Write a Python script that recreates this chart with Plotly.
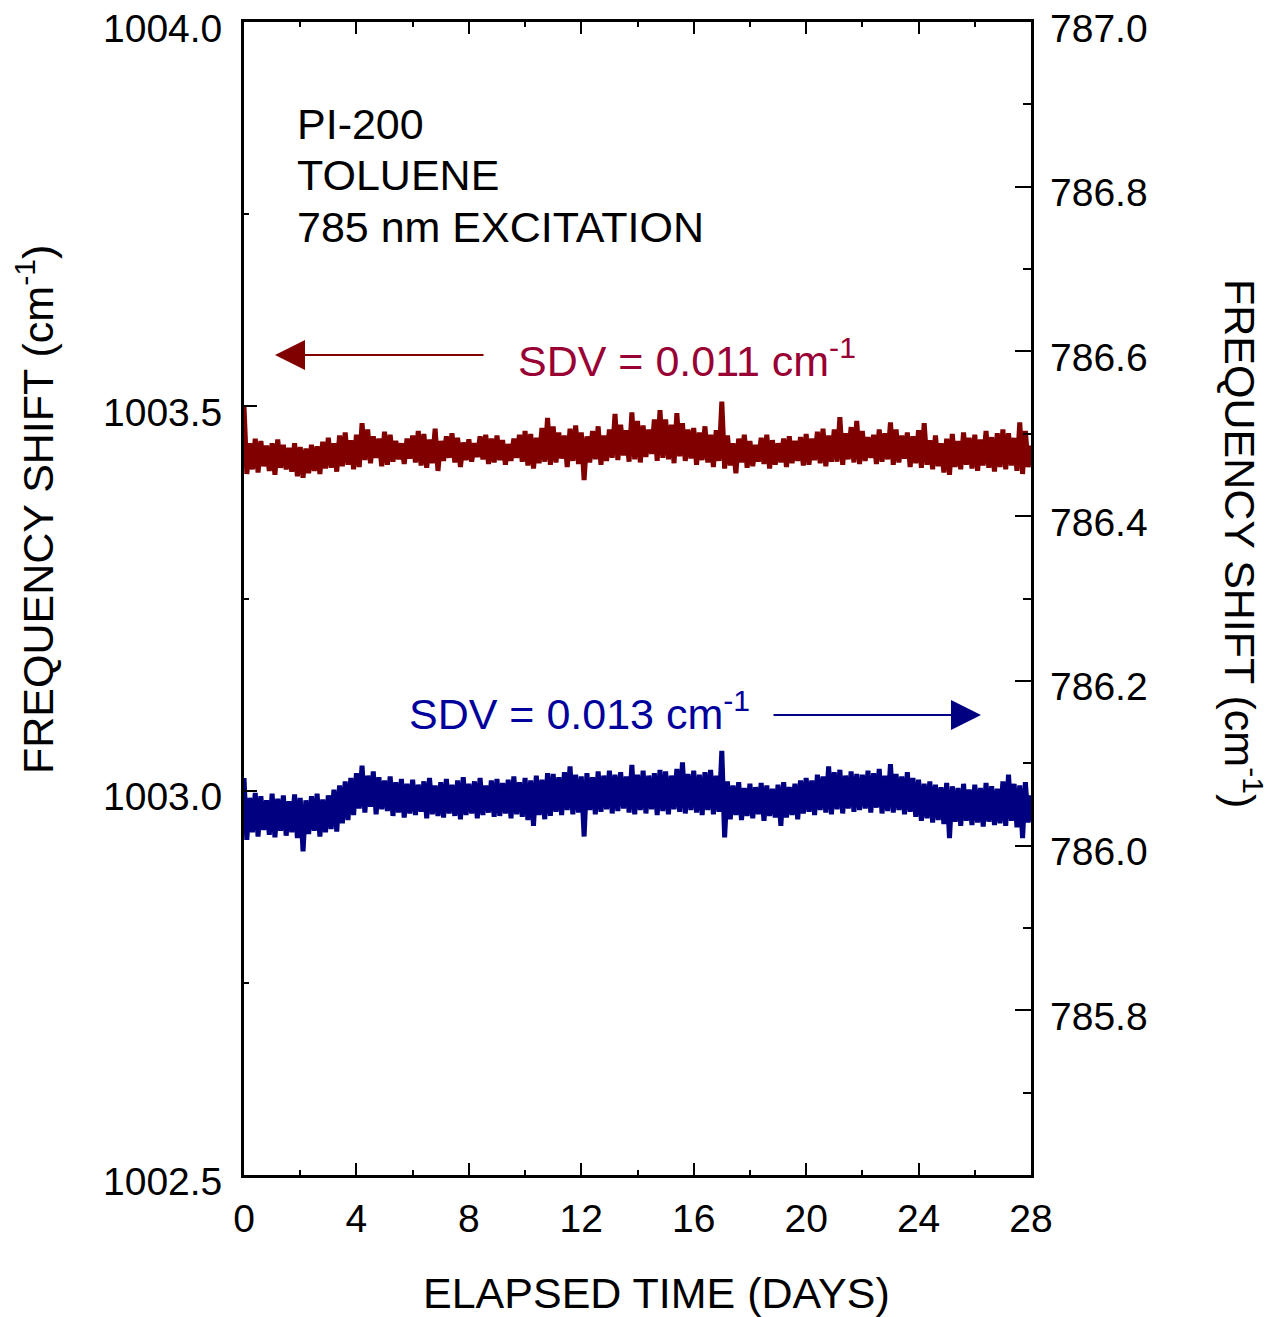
import plotly.graph_objects as go

# ---- data ----
T_STEP = 0.1  # days between plotted samples

RED_LEFT = [  # frequency shift, left axis (cm-1); one row per day
    1003.500, 1003.412, 1003.452, 1003.418, 1003.458, 1003.414, 1003.455, 1003.422, 1003.449, 1003.416,
    1003.452, 1003.411, 1003.457, 1003.420, 1003.450, 1003.418, 1003.446, 1003.415, 1003.452, 1003.409,
    1003.447, 1003.407, 1003.445, 1003.413, 1003.450, 1003.416, 1003.448, 1003.412, 1003.454, 1003.419,
    1003.459, 1003.420, 1003.452, 1003.415, 1003.462, 1003.422, 1003.466, 1003.424, 1003.456, 1003.418,
    1003.463, 1003.421, 1003.478, 1003.430, 1003.470, 1003.426, 1003.461, 1003.433, 1003.458, 1003.422,
    1003.467, 1003.424, 1003.463, 1003.428, 1003.455, 1003.431, 1003.452, 1003.425, 1003.458, 1003.432,
    1003.462, 1003.427, 1003.468, 1003.423, 1003.464, 1003.420, 1003.457, 1003.426, 1003.471, 1003.416,
    1003.455, 1003.429, 1003.461, 1003.433, 1003.465, 1003.427, 1003.459, 1003.421, 1003.453, 1003.430,
    1003.457, 1003.428, 1003.452, 1003.434, 1003.461, 1003.431, 1003.463, 1003.425, 1003.458, 1003.427,
    1003.462, 1003.430, 1003.456, 1003.424, 1003.451, 1003.429, 1003.458, 1003.433, 1003.463, 1003.428,
    1003.468, 1003.423, 1003.464, 1003.419, 1003.459, 1003.426, 1003.472, 1003.428, 1003.485, 1003.424,
    1003.474, 1003.427, 1003.466, 1003.432, 1003.462, 1003.421, 1003.471, 1003.429, 1003.475, 1003.425,
    1003.466, 1003.404, 1003.461, 1003.427, 1003.468, 1003.431, 1003.474, 1003.424, 1003.462, 1003.429,
    1003.470, 1003.433, 1003.490, 1003.430, 1003.476, 1003.436, 1003.469, 1003.428, 1003.492, 1003.431,
    1003.481, 1003.427, 1003.475, 1003.434, 1003.470, 1003.438, 1003.483, 1003.429, 1003.495, 1003.433,
    1003.483, 1003.431, 1003.476, 1003.426, 1003.491, 1003.435, 1003.478, 1003.429, 1003.470, 1003.432,
    1003.472, 1003.424, 1003.466, 1003.430, 1003.474, 1003.427, 1003.463, 1003.421, 1003.469, 1003.429,
    1003.506, 1003.419, 1003.462, 1003.423, 1003.452, 1003.413, 1003.458, 1003.427, 1003.463, 1003.420,
    1003.455, 1003.422, 1003.450, 1003.428, 1003.459, 1003.425, 1003.463, 1003.419, 1003.456, 1003.424,
    1003.452, 1003.427, 1003.458, 1003.421, 1003.461, 1003.426, 1003.455, 1003.429, 1003.460, 1003.423,
    1003.464, 1003.424, 1003.458, 1003.430, 1003.467, 1003.426, 1003.471, 1003.422, 1003.462, 1003.428,
    1003.470, 1003.428, 1003.486, 1003.424, 1003.465, 1003.431, 1003.473, 1003.427, 1003.481, 1003.425,
    1003.468, 1003.429, 1003.460, 1003.433, 1003.463, 1003.425, 1003.470, 1003.428, 1003.465, 1003.431,
    1003.479, 1003.424, 1003.470, 1003.427, 1003.462, 1003.432, 1003.466, 1003.421, 1003.461, 1003.426,
    1003.469, 1003.420, 1003.478, 1003.424, 1003.456, 1003.418, 1003.462, 1003.422, 1003.452, 1003.414,
    1003.458, 1003.411, 1003.464, 1003.421, 1003.455, 1003.418, 1003.466, 1003.424, 1003.459, 1003.419,
    1003.463, 1003.416, 1003.457, 1003.423, 1003.468, 1003.420, 1003.460, 1003.415, 1003.465, 1003.421,
    1003.470, 1003.418, 1003.465, 1003.423, 1003.459, 1003.416, 1003.479, 1003.412, 1003.468, 1003.421,
    1003.449,
]

BLUE_RIGHT = [  # frequency shift, right axis (cm-1); one row per day
    786.082, 786.007, 786.058, 786.016, 786.064, 786.011, 786.060, 786.019, 786.055, 786.013,
    786.063, 786.010, 786.057, 786.018, 786.061, 786.012, 786.054, 786.016, 786.062, 786.009,
    786.058, 785.993, 786.055, 786.014, 786.060, 786.018, 786.063, 786.011, 786.056, 786.016,
    786.061, 786.020, 786.068, 786.017, 786.073, 786.027, 786.078, 786.031, 786.082, 786.037,
    786.088, 786.045, 786.097, 786.040, 786.085, 786.047, 786.090, 786.038, 786.083, 786.044,
    786.079, 786.042, 786.084, 786.036, 786.077, 786.040, 786.081, 786.034, 786.075, 786.039,
    786.080, 786.037, 786.074, 786.041, 786.078, 786.033, 786.082, 786.038, 786.073, 786.036,
    786.077, 786.034, 786.081, 786.039, 786.074, 786.036, 786.079, 786.032, 786.083, 786.037,
    786.075, 786.039, 786.078, 786.033, 786.082, 786.037, 786.073, 786.040, 786.079, 786.035,
    786.081, 786.036, 786.076, 786.039, 786.080, 786.033, 786.084, 786.038, 786.077, 786.035,
    786.082, 786.031, 786.079, 786.024, 786.085, 786.037, 786.080, 786.032, 786.088, 786.036,
    786.087, 786.041, 786.083, 786.037, 786.089, 786.043, 786.096, 786.038, 786.086, 786.040,
    786.084, 786.011, 786.088, 786.043, 786.083, 786.038, 786.090, 786.041, 786.085, 786.044,
    786.091, 786.039, 786.086, 786.042, 786.089, 786.045, 786.084, 786.040, 786.098, 786.038,
    786.086, 786.043, 786.091, 786.039, 786.085, 786.044, 786.088, 786.037, 786.092, 786.042,
    786.090, 786.038, 786.085, 786.044, 786.093, 786.041, 786.101, 786.039, 786.087, 786.043,
    786.091, 786.040, 786.086, 786.037, 786.089, 786.043, 786.092, 786.038, 786.085, 786.041,
    786.115, 786.010, 786.078, 786.032, 786.073, 786.037, 786.077, 786.031, 786.070, 786.036,
    786.075, 786.033, 786.071, 786.038, 786.076, 786.030, 786.073, 786.036, 786.069, 786.034,
    786.074, 786.024, 786.077, 786.034, 786.071, 786.037, 786.075, 786.032, 786.079, 786.039,
    786.082, 786.041, 786.079, 786.037, 786.086, 786.043, 786.084, 786.040, 786.096, 786.038,
    786.089, 786.044, 786.092, 786.039, 786.085, 786.045, 786.090, 786.041, 786.087, 786.043,
    786.086, 786.045, 786.091, 786.040, 786.088, 786.046, 786.093, 786.039, 786.085, 786.042,
    786.099, 786.040, 786.087, 786.043, 786.084, 786.038, 786.089, 786.041, 786.082, 786.035,
    786.080, 786.030, 786.075, 786.033, 786.078, 786.028, 786.074, 786.031, 786.071, 786.026,
    786.076, 786.009, 786.072, 786.029, 786.070, 786.024, 786.075, 786.030, 786.068, 786.025,
    786.074, 786.028, 786.070, 786.023, 786.076, 786.029, 786.072, 786.025, 786.069, 786.027,
    786.078, 786.024, 786.086, 786.030, 786.075, 786.022, 786.073, 786.009, 786.077, 786.028,
    786.061,
]

TIME_RED = [round(i * T_STEP, 2) for i in range(len(RED_LEFT))]
TIME_BLUE = [round(i * T_STEP, 2) for i in range(len(BLUE_RIGHT))]

X_TICKS = [0, 4, 8, 12, 16, 20, 24, 28]
Y_LEFT_TICKS = [1002.5, 1003.0, 1003.5, 1004.0]
Y_RIGHT_TICKS = [785.8, 786.0, 786.2, 786.4, 786.6, 786.8, 787.0]

RED = "#800000"
BLUE = "#000080"
RED_TEXT = "#990033"
BLUE_TEXT = "#00009c"
FONT = "Liberation Sans, Arial, sans-serif"

fig = go.Figure()
fig.add_trace(go.Scatter(x=TIME_RED, y=RED_LEFT, mode="lines",
                         line=dict(color=RED, width=5), yaxis="y", showlegend=False))
fig.add_trace(go.Scatter(x=TIME_BLUE, y=BLUE_RIGHT, mode="lines",
                         line=dict(color=BLUE, width=5), yaxis="y2", showlegend=False))

# page geometry (window pixels; body margin removed below)
X0, X1, Y0, Y1 = 244, 1031, 22, 1175   # plot area
W, H = 1269, 1317


def px(xp):
    return (xp - X0) / (X1 - X0)


def py(yp):
    return (Y1 - yp) / (Y1 - Y0)


axis_common = dict(showline=True, linecolor="black", linewidth=3, ticks="inside",
                   tickcolor="black", tickwidth=2, showgrid=False, zeroline=False,
                   tickfont=dict(family=FONT, size=39, color="black"))

fig.update_layout(
    width=W, height=H,
    margin=dict(l=X0, r=W - X1, t=Y0, b=H - Y1, autoexpand=False),
    plot_bgcolor="white", paper_bgcolor="white",
    font=dict(family=FONT, color="black"),
    xaxis=dict(range=[0, 28], tickvals=X_TICKS, ticklen=12, mirror="ticks",
               minor=dict(dtick=2, ticklen=5, tickwidth=1.5, tickcolor="black", ticks="inside"),
               ticklabelstandoff=7, **axis_common),
    yaxis=dict(range=[1002.5, 1004.0], tickvals=Y_LEFT_TICKS, ticklen=13, showticklabels=False,
               minor=dict(dtick=0.25, ticklen=5, tickwidth=1.5, tickcolor="black", ticks="inside"),
               **axis_common),
    yaxis2=dict(range=[785.6, 787.0], tickvals=Y_RIGHT_TICKS, ticklen=16, showticklabels=False,
                overlaying="y", side="right",
                minor=dict(dtick=0.1, ticklen=8, tickwidth=1.5, tickcolor="black", ticks="inside"),
                **axis_common),
)

# y tick labels (sit slightly below their ticks, as in the reference)
tick_font = dict(family=FONT, size=39, color="black")
for v in Y_LEFT_TICKS:
    fig.add_annotation(text=f"{v:.1f}", xref="paper", x=px(224), yref="y", y=v, yshift=-6,
                       xanchor="right", yanchor="middle", showarrow=False, font=tick_font)
for v in Y_RIGHT_TICKS:
    fig.add_annotation(text=f"{v:.1f}", xref="paper", x=px(1048), yref="y2", y=v, yshift=-6,
                       xanchor="left", yanchor="middle", showarrow=False, font=tick_font)

ann_font = dict(family=FONT, size=43, color="black")
annotations = [
    dict(text="PI-200", x=px(295), y=py(124), xanchor="left", yanchor="middle"),
    dict(text="TOLUENE", x=px(295), y=py(175), xanchor="left", yanchor="middle"),
    dict(text="785 nm EXCITATION", x=px(295), y=py(227), xanchor="left", yanchor="middle"),
    dict(text="ELAPSED TIME (DAYS)", x=px(656), y=py(1293), xanchor="center", yanchor="middle"),
    dict(text="FREQUENCY SHIFT (cm<sup>-1</sup>)", x=px(35), y=py(510), xanchor="center",
         yanchor="middle", textangle=-90),
    dict(text="FREQUENCY SHIFT (cm<sup>-1</sup>)", x=px(1243), y=py(543), xanchor="center",
         yanchor="middle", textangle=90),
    dict(text="SDV = 0.011 cm<sup>-1</sup>", x=px(516), y=py(358), xanchor="left", yanchor="middle",
         font=dict(family=FONT, size=43, color=RED_TEXT)),
    dict(text="SDV = 0.013 cm<sup>-1</sup>", x=px(407), y=py(711), xanchor="left", yanchor="middle",
         font=dict(family=FONT, size=43, color=BLUE_TEXT)),
]
for a in annotations:
    a.setdefault("font", ann_font)
    fig.add_annotation(xref="paper", yref="paper", showarrow=False, **a)

# arrows pointing to the axis each series belongs to
fig.add_annotation(x=px(275), y=py(355), ax=px(485), ay=py(355), xref="x domain", yref="y domain",
                   axref="x domain", ayref="y domain", text="", showarrow=True, arrowhead=2,
                   arrowsize=3, arrowwidth=2, arrowcolor=RED)
fig.add_annotation(x=px(981), y=py(715), ax=px(772), ay=py(715), xref="x domain", yref="y domain",
                   axref="x domain", ayref="y domain", text="", showarrow=True, arrowhead=2,
                   arrowsize=3, arrowwidth=2, arrowcolor=BLUE)

fig.write_html("out.html", config={"displayModeBar": False},
               post_script="document.body.style.margin='0px';")
